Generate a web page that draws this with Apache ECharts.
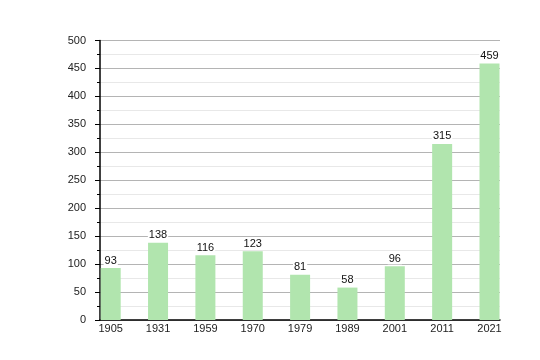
<!DOCTYPE html>
<html><head><meta charset="utf-8">
<script src="https://cdn.jsdelivr.net/npm/echarts@6/dist/echarts.min.js"></script>
<style>html,body{margin:0;padding:0;background:#fff}#c{width:540px;height:360px}</style>
</head><body><div id="c"></div>
<script>
var categories = ['1905','1931','1959','1970','1979','1989','2001','2011','2021'];
var values = [93, 138, 116, 123, 81, 58, 96, 315, 459];
var yMax = 500;
var yInterval = 50;

var font = 'Liberation Sans, Arial, sans-serif';
var chart = echarts.init(document.getElementById('c'), null, {renderer: 'canvas'});
chart.setOption({
  animation: false,
  backgroundColor: '#fff',
  grid: [
    {left: 100, right: 40, top: 40.5, bottom: 40},
    {left: 110.7, width: 378.8, top: 40.5, bottom: 40}
  ],
  xAxis: [
    {type: 'category', gridIndex: 0, data: categories, axisLine: {show: true, lineStyle: {color: '#000', width: 1.5}},
     axisTick: {show: false}, axisLabel: {show: false}, splitLine: {show: false}},
    {type: 'category', gridIndex: 1, data: categories, boundaryGap: false,
     axisLine: {show: false}, axisTick: {show: false},
     axisLabel: {show: true, color: '#222', fontFamily: font, fontSize: 11, margin: 3}, splitLine: {show: false}}
  ],
  yAxis: [
    {type: 'value', gridIndex: 0, min: 0, max: yMax, interval: yInterval,
     axisLine: {show: true, lineStyle: {color: '#000', width: 1.5}},
     axisTick: {show: true, length: 5, lineStyle: {color: '#000'}},
     minorTick: {show: true, splitNumber: 2, length: 3, lineStyle: {color: '#000'}},
     axisLabel: {color: '#222', fontFamily: font, fontSize: 11, margin: 14},
     splitLine: {show: true, lineStyle: {color: '#b4b4b4', width: 1}},
     minorSplitLine: {show: true, lineStyle: {color: '#e8e8e8', width: 1}}},
    {type: 'value', gridIndex: 1, min: 0, max: yMax, interval: yInterval, show: false, splitLine: {show: false}}
  ],
  series: [{
    type: 'bar', xAxisIndex: 1, yAxisIndex: 1, data: values, barWidth: 20,
    itemStyle: {color: '#b1e5ae'},
    label: {show: true, position: 'top', distance: 2, color: '#111', fontFamily: font, fontSize: 11,
            backgroundColor: '#fff', padding: [1, 1, 0, 1]}
  }]
});
</script></body></html>
